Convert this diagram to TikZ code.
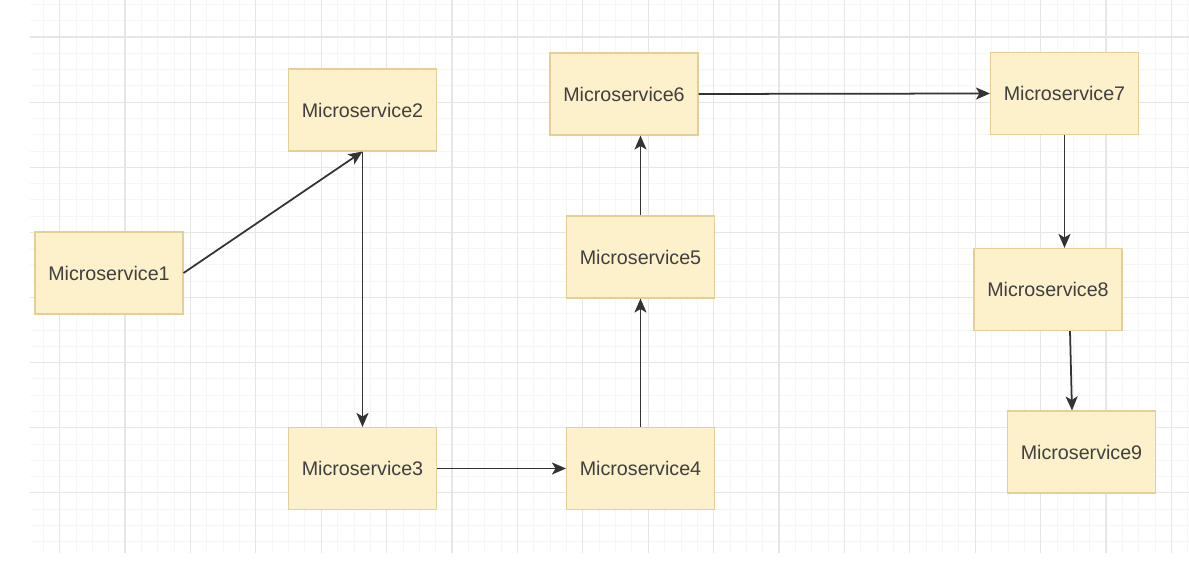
\documentclass[tikz,border=0pt]{standalone}
\usepackage{fontspec}
\setmainfont{Liberation Sans}
\usetikzlibrary{arrows.meta}
\definecolor{boxfill}{HTML}{FCF1CB}
\definecolor{boxline}{HTML}{E3D097}
\definecolor{gridline}{HTML}{E6E6E6}
\definecolor{gridminor}{HTML}{F6F6F6}
\definecolor{linkcol}{HTML}{333333}
\begin{document}
\begin{tikzpicture}[
    service/.style={
        draw=boxline,
        fill=boxfill,
        line width=0.6pt,
        minimum width=2.96cm,
        minimum height=1.64cm,
        text=black!75,
        font=\fontsize{11.2}{13}\selectfont
    },
    link/.style={
        draw=linkcol,
        line width=1pt,
        -{Stealth[length=2.8mm,width=2.4mm,inset=0.7mm]}
    }
]
\useasboundingbox (0,0) rectangle (23.78,11.26);
\fill[white] (0,0) rectangle (23.78,11.26);

% Background grid
\begin{scope}
    \clip (0.6,0.2) rectangle (23.78,11.26);
    \foreach \i in {0,...,75}
        \draw[gridminor, line width=0.4pt] ({-0.116+0.327*\i},0) -- ({-0.116+0.327*\i},11.26);
    \foreach \j in {-2,...,33}
        \draw[gridminor, line width=0.4pt] (0,{10.52-0.3255*\j}) -- (23.78,{10.52-0.3255*\j});
    \foreach \i in {0,...,17}
        \draw[gridline, line width=0.6pt] ({1.192+1.308*\i},0) -- ({1.192+1.308*\i},11.26);
    \foreach \j in {0,...,7}
        \draw[gridline, line width=0.6pt] (0,{10.52-1.302*\j}) -- (23.78,{10.52-1.302*\j});
\end{scope}

% Services
\node[service] (ms1) at (2.18,5.80) {Microservice1};
\node[service] (ms2) at (7.25,9.06) {Microservice2};
\node[service] (ms3) at (7.25,1.89) {Microservice3};
\node[service] (ms4) at (12.81,1.89) {Microservice4};
\node[service] (ms5) at (12.81,6.12) {Microservice5};
\node[service] (ms6) at (12.48,9.38) {Microservice6};
\node[service] (ms7) at (21.29,9.39) {Microservice7};
\node[service] (ms8) at (20.96,5.47) {Microservice8};
\node[service] (ms9) at (21.63,2.22) {Microservice9};

% Calls
\draw[link] (ms1.east) -- (ms2.south);
\draw[link] (ms2.south) -- (ms3.north);
\draw[link] (ms3.east) -- (ms4.west);
\draw[link] (ms4.north) -- (ms5.south);
\draw[link] (ms5.north) -- (ms5.north |- ms6.south);
\draw[link] (ms6.east) -- (ms7.west);
\draw[link] (ms7.south) -- (ms7.south |- ms8.north);
\draw[link] ([xshift=0.44cm]ms8.south) -- ([xshift=-0.19cm]ms9.north);

\end{tikzpicture}
\end{document}
